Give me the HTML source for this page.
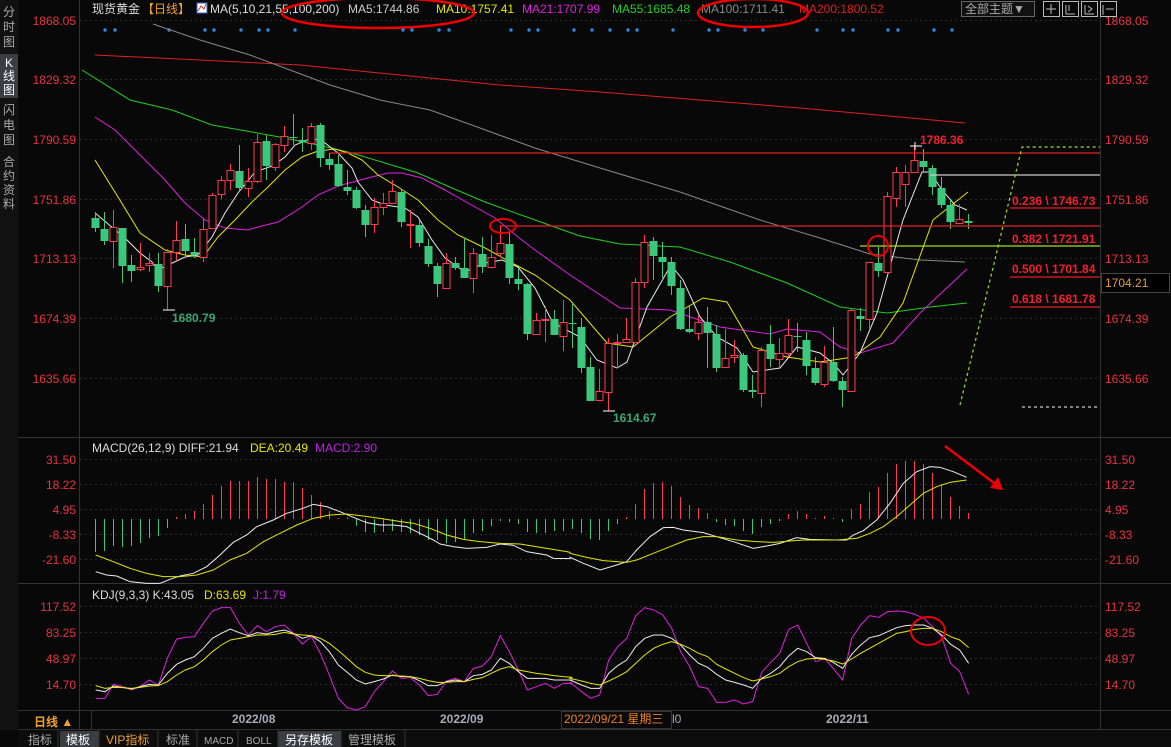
<!DOCTYPE html>
<html><head><meta charset="utf-8">
<style>
html,body{margin:0;padding:0;background:#080808;width:1171px;height:747px;overflow:hidden}
svg{display:block}
text{font-family:"Liberation Sans","Noto Sans CJK SC",sans-serif}
</style></head><body>
<svg id="s" width="1171" height="747" viewBox="0 0 1171 747" xmlns="http://www.w3.org/2000/svg">
<rect width="1171" height="747" fill="#080808"/>
<rect x="0" y="0" width="18" height="730" fill="#111"/>
<rect x="0" y="54" width="18" height="44" fill="#3a3d44"/>
<g font-size="12" fill="#aaa" text-anchor="middle">
<text x="9" y="16">分</text><text x="9" y="31">时</text><text x="9" y="46">图</text>
<text x="9" y="67" fill="#fff">K</text><text x="9" y="80" fill="#fff">线</text><text x="9" y="94" fill="#fff">图</text>
<text x="9" y="114">闪</text><text x="9" y="129">电</text><text x="9" y="144">图</text>
<text x="9" y="166">合</text><text x="9" y="180">约</text><text x="9" y="194">资</text><text x="9" y="208">料</text>
</g>
<g stroke="#333" stroke-width="1">
<line x1="79.5" y1="0" x2="79.5" y2="730"/>
<line x1="1100.5" y1="0" x2="1100.5" y2="730"/>
<line x1="18" y1="437.5" x2="1171" y2="437.5"/>
<line x1="18" y1="583.5" x2="1171" y2="583.5"/>
<line x1="18" y1="710.5" x2="1171" y2="710.5"/>
<line x1="18" y1="729.5" x2="1171" y2="729.5"/>
<line x1="91.5" y1="710" x2="91.5" y2="730"/>
</g>
<g stroke="#2a2a2a" stroke-dasharray="2,3">
<line x1="80" y1="20.5" x2="1100" y2="20.5"/><line x1="80" y1="79.5" x2="1100" y2="79.5"/>
<line x1="80" y1="139.5" x2="1100" y2="139.5"/><line x1="80" y1="199.5" x2="1100" y2="199.5"/>
<line x1="80" y1="258.5" x2="1100" y2="258.5"/><line x1="80" y1="318.5" x2="1100" y2="318.5"/>
<line x1="80" y1="378.5" x2="1100" y2="378.5"/>
<line x1="80" y1="459.5" x2="1100" y2="459.5"/><line x1="80" y1="484.5" x2="1100" y2="484.5"/>
<line x1="80" y1="509.5" x2="1100" y2="509.5"/><line x1="80" y1="534.5" x2="1100" y2="534.5"/>
<line x1="80" y1="559.5" x2="1100" y2="559.5"/>
<line x1="80" y1="606.5" x2="1100" y2="606.5"/><line x1="80" y1="632.5" x2="1100" y2="632.5"/>
<line x1="80" y1="658.5" x2="1100" y2="658.5"/><line x1="80" y1="684.5" x2="1100" y2="684.5"/>
</g>
<g font-size="12" fill="#e8333f">
<g text-anchor="end">
<text x="76" y="25">1868.05</text><text x="76" y="84">1829.32</text><text x="76" y="144">1790.59</text>
<text x="76" y="204">1751.86</text><text x="76" y="263">1713.13</text><text x="76" y="323">1674.39</text>
<text x="76" y="383">1635.66</text>
<text x="76" y="464">31.50</text><text x="76" y="489">18.22</text><text x="76" y="514">4.95</text>
<text x="76" y="539">-8.33</text><text x="76" y="564">-21.60</text>
<text x="76" y="611">117.52</text><text x="76" y="637">83.25</text><text x="76" y="663">48.97</text><text x="76" y="689">14.70</text>
</g>
<text x="1105" y="25">1868.05</text><text x="1105" y="84">1829.32</text><text x="1105" y="144">1790.59</text>
<text x="1105" y="204">1751.86</text><text x="1105" y="263">1713.13</text><text x="1105" y="323">1674.39</text>
<text x="1105" y="383">1635.66</text>
<text x="1105" y="464">31.50</text><text x="1105" y="489">18.22</text><text x="1105" y="514">4.95</text>
<text x="1105" y="539">-8.33</text><text x="1105" y="564">-21.60</text>
<text x="1105" y="611">117.52</text><text x="1105" y="637">83.25</text><text x="1105" y="663">48.97</text><text x="1105" y="689">14.70</text>
</g>
<rect x="1101.5" y="273.5" width="68" height="19" fill="#000" stroke="#444"/>
<text x="1105" y="287" font-size="12" fill="#e0a040">1704.21</text>
<g font-size="12">
<text x="92" y="13" fill="#ddd">现货黄金</text>
<text x="142" y="13" fill="#f0a030">【日线】</text>
<rect x="197" y="3" width="10" height="10" fill="#fff" stroke="#36c"/>
<polyline points="198,11 201,6 204,9 206,4" fill="none" stroke="#c33"/>
<text x="210" y="13" fill="#ddd">MA(5,10,21,55,100,200)</text>
<text x="348" y="13" fill="#ccc">MA5:1744.86</text>
<text x="436" y="13" fill="#e6e600">MA10:1757.41</text>
<text x="522" y="13" fill="#e020e0">MA21:1707.99</text>
<text x="612" y="13" fill="#20d020">MA55:1685.48</text>
<text x="701" y="13" fill="#888">MA100:1711.41</text>
<text x="799" y="13" fill="#e02020">MA200:1800.52</text>
</g>
<rect x="961.5" y="1.5" width="73" height="15" fill="#111" stroke="#666"/>
<text x="965" y="13" font-size="12" fill="#aaa">全部主题▼</text>
<g fill="none" stroke="#bbb">
<rect x="1043.5" y="1.5" width="16" height="15"/><rect x="1062.5" y="1.5" width="16" height="15"/>
<rect x="1081.5" y="1.5" width="16" height="15"/><rect x="1100.5" y="1.5" width="16" height="15"/>
<path d="M1051 4v10M1046 9h10M1066 5v9h9M1069 5v6M1085 5v9h9M1088 6l4 3-4 3M1103 5v10M1106 9h8"/>
</g>
<ellipse cx="378" cy="13" rx="96" ry="15" fill="none" stroke="#e00" stroke-width="2.5"/>
<ellipse cx="753" cy="13" rx="55" ry="14" fill="none" stroke="#e00" stroke-width="2.5"/>
<g id="dots" fill="#2a8ae0"></g>
<g id="ma" fill="none" stroke-width="1"></g>
<g id="candles"></g>
<g id="macd"></g>
<g id="kdj" fill="none"></g>
<g stroke-width="1.2">
<line x1="330" y1="153" x2="1100" y2="153" stroke="#e02020"/>
<line x1="930" y1="175" x2="1100" y2="175" stroke="#ccc"/>
<line x1="500" y1="226" x2="1100" y2="226" stroke="#e02020"/>
<line x1="860" y1="246" x2="1100" y2="246" stroke="#a0e020"/>
<line x1="1010" y1="208" x2="1100" y2="208" stroke="#e02020"/>
<line x1="1010" y1="277" x2="1100" y2="277" stroke="#e02020"/>
<line x1="1010" y1="307" x2="1100" y2="307" stroke="#e02020"/>
<polyline points="960,405 1022,147 1100,147" fill="none" stroke="#a0e020" stroke-dasharray="3,3"/>
<line x1="1022" y1="407" x2="1100" y2="407" stroke="#ccc" stroke-dasharray="3,3"/>
</g>
<g font-size="12" font-weight="bold" fill="#f02030">
<text x="1012" y="205">0.236 \ 1746.73</text>
<text x="1012" y="243">0.382 \ 1721.91</text>
<text x="1012" y="273">0.500 \ 1701.84</text>
<text x="1012" y="303">0.618 \ 1681.78</text>
<text x="920" y="144">1786.36</text>
</g>
<g font-size="12" font-weight="bold" fill="#3aa676">
<text x="172" y="322">1680.79</text>
<text x="613" y="422">1614.67</text>
</g>
<g stroke="#fff"><line x1="163" y1="310" x2="175" y2="310"/><line x1="603" y1="411" x2="615" y2="411"/><line x1="910" y1="146" x2="922" y2="146"/><line x1="915" y1="142" x2="915" y2="150"/></g>
<ellipse cx="503" cy="226" rx="13" ry="7" fill="none" stroke="#e00" stroke-width="2"/>
<circle cx="878" cy="246" r="10" fill="none" stroke="#e00" stroke-width="2"/>
<ellipse cx="928" cy="631" rx="17" ry="14" fill="none" stroke="#e00" stroke-width="2"/>
<line x1="945" y1="446" x2="994" y2="483" stroke="#e00" stroke-width="2.5"/>
<polygon points="1003,490 990,488 998,477" fill="#e00"/>
<g font-size="12">
<text x="92" y="452" fill="#ddd">MACD(26,12,9) DIFF:21.94</text>
<text x="250" y="452" fill="#e6e600">DEA:20.49</text>
<text x="315" y="452" fill="#c020e0">MACD:2.90</text>
<text x="92" y="599" fill="#ddd">KDJ(9,3,3) K:43.05</text>
<text x="204" y="599" fill="#e6e600">D:63.69</text>
<text x="253" y="599" fill="#c020e0">J:1.79</text>
</g>
<rect x="561.5" y="711.5" width="110" height="17" fill="#080808" stroke="#333"/>
<g font-size="12">
<text x="34" y="726" fill="#f0a030" font-weight="bold">日线 ▲</text>
<text x="232" y="723" fill="#aab" font-weight="bold">2022/08</text>
<text x="440" y="723" fill="#aab" font-weight="bold">2022/09</text>
<text x="564" y="723" fill="#f08020">2022/09/21 星期三</text>
<text x="672" y="723" fill="#aab">l0</text>
<text x="826" y="723" fill="#aab" font-weight="bold">2022/11</text>
</g>
<rect x="18" y="730" width="1153" height="17" fill="#0c0c0c"/>
<rect x="60" y="731" width="39" height="16" fill="#3a3d44"/>
<rect x="278" y="731" width="63" height="16" fill="#3a3d44"/>
<g stroke="#333"><line x1="58" y1="730" x2="58" y2="747"/><line x1="99" y1="730" x2="99" y2="747"/><line x1="158" y1="730" x2="158" y2="747"/><line x1="197" y1="730" x2="197" y2="747"/><line x1="238" y1="730" x2="238" y2="747"/><line x1="278" y1="730" x2="278" y2="747"/><line x1="341" y1="730" x2="341" y2="747"/><line x1="405" y1="730" x2="405" y2="747"/></g>
<g font-size="12" fill="#aaa">
<text x="28" y="744">指标</text>
<text x="66" y="744" fill="#fff">模板</text>
<text x="106" y="744" fill="#f0a030">VIP指标</text>
<text x="166" y="744">标准</text>
<text x="204" y="744" font-size="10" font-family="Liberation Mono">MACD</text>
<text x="246" y="744" font-size="10" font-family="Liberation Mono">BOLL</text>
<text x="285" y="744" fill="#fff">另存模板</text>
<text x="348" y="744">管理模板</text>
</g>
</svg>
<script>
var NS="http://www.w3.org/2000/svg";
function el(p,t,a){var e=document.createElementNS(NS,t);for(var k in a)e.setAttribute(k,a[k]);document.getElementById(p).appendChild(e);return e;}
[105,115,169,205,214,241,259,268,295,403,412,439,449,511,529,538,574,592,610,628,637,673,709,718,745,763,817,843,853,888,898,934,952].forEach(function(x){el("dots","circle",{cx:x,cy:30,r:1.7});});
function pl(p,pts,col,w){el(p,"polyline",{points:pts.map(function(q){return q[0]+","+q[1]}).join(" "),stroke:col,"stroke-width":w||1,fill:"none"});}
function z(pts,ox,oy){return pts.map(function(q){return [ox+q[0]/3,oy+q[1]/3];});}
pl("ma",[[95,55],[200,60],[300,65],[400,75],[500,85],[600,92],[700,100],[800,108],[900,117],[965,123]],"#e02020");
pl("ma",[[153,24],[200,40],[250,55],[290,70],[330,85],[380,100],[430,110],[480,128],[535,148],[600,168],[680,192],[760,220],[820,238],[870,254],[920,260],[965,262]],"#888");
pl("ma",[[82,70],[130,100],[172,110],[212,125],[252,132],[285,138],[318,145],[352,153],[385,163],[418,173],[452,188],[485,202],[535,220],[580,236],[620,244],[680,247],[730,262],[787,283],[840,307],[887,313],[930,307],[967,303]],"#20d020");
pl("ma",[[95,117],[115,130],[145,160],[165,180],[185,203],[205,220],[225,228],[248,230],[258,227],[278,222],[302,207],[318,195],[338,186],[368,178],[388,173],[402,173],[422,178],[445,190],[468,203],[495,218],[518,237],[535,250],[570,275],[620,308],[670,310],[720,327],[770,334],[787,329],[820,332],[840,347],[860,353],[893,343],[920,313],[967,269]],"#e020e0");
pl("ma",[[95,160],[118,197],[140,233],[165,250],[185,255],[203,257],[218,237],[235,220],[252,202],[268,187],[285,170],[302,157],[318,151],[335,149],[348,153],[362,160],[378,175],[398,187],[418,200],[438,220],[458,235],[485,248],[512,263],[535,275],[570,300],[607,343],[633,347],[670,317],[703,298],[727,302],[753,347],[787,357],[820,362],[853,357],[880,337],[903,303],[933,220],[968,192]],"#e6e600");
pl("ma",[[95,213],[125,238],[140,253],[152,262],[158,270],[168,265],[185,257],[198,255],[212,237],[225,213],[238,193],[255,172],[272,166],[285,157],[295,145],[312,138],[325,143],[338,153],[352,168],[358,182],[372,200],[385,205],[405,208],[418,217],[432,240],[445,258],[465,272],[485,263],[502,260],[518,267],[535,288],[553,323],[580,337],[597,360],[617,368],[627,362],[647,307],[671,265],[683,280],[700,317],[717,337],[737,348],[753,372],[780,368],[797,347],[820,353],[833,363],[843,375],[860,353],[877,313],[903,220],[922,172],[930,172],[942,190],[955,205],[967,210]],"#e8e8e8");
var C=[[218,228,212,232,0],[229,241,212,245,0],[227,241,210,268,1],[228,266,228,283,0],[265,271,255,282,0],[267,269,243,271,1],[263,265,253,272,1],[264,286,253,292,0],[252,286,249,310,1],[240,252,221,260,1],[239,251,224,257,0],[252,255,238,258,0],[229,257,218,262,1],[195,228,193,229,1],[180,194,176,199,1],[170,180,164,190,1],[171,188,145,190,0],[181,188,168,197,1],[142,181,134,183,1],[141,166,135,180,0],[144,167,143,171,1],[136,145,126,152,1],[137,138,114,145,0],[140,142,128,152,0],[126,143,123,150,1],[125,158,123,167,0],[159,165,153,170,0],[164,186,155,187,0],[187,191,170,195,0],[190,208,187,209,0],[210,225,205,237,0],[207,224,198,233,1],[203,207,193,215,1],[191,203,180,203,1],[192,222,190,227,0],[224,225,210,248,1],[225,243,220,247,0],[246,264,239,267,0],[266,284,263,297,0],[263,288,253,288,1],[263,268,257,270,0],[268,278,238,278,0],[253,278,248,293,1],[254,267,237,273,0],[257,267,235,268,1],[243,253,225,257,1],[244,278,233,284,0],[279,284,269,290,0],[284,334,283,340,0],[320,334,313,334,1],[319,320,306,342,1],[319,335,310,335,0],[322,336,300,351,1],[323,324,303,348,0],[327,368,318,373,0],[367,401,357,401,0],[391,400,369,400,1],[343,392,338,411,1],[342,343,334,368,1],[339,342,318,343,1],[282,342,278,343,1],[242,282,235,288,1],[241,256,237,280,0],[257,262,242,278,0],[262,286,257,295,0],[288,329,280,330,0],[329,332,305,333,0],[322,333,315,340,1],[322,333,307,368,0],[334,368,325,372,0],[358,367,329,367,1],[355,357,340,363,1],[355,390,353,392,0],[390,392,375,398,0],[350,393,347,407,1],[344,359,325,367,0],[353,359,338,368,1],[335,353,319,357,1],[336,337,323,352,0],[340,366,332,375,0],[368,383,357,385,0],[362,384,346,387,1],[362,381,327,382,0],[381,390,377,407,0],[310,391,308,391,1],[316,319,308,331,0],[262,319,262,330,1],[263,271,247,277,0],[196,272,192,272,1],[172,198,167,207,1],[172,184,165,207,1],[160,172,146,172,1],[161,167,149,173,0],[168,187,165,195,0],[188,205,177,208,0],[205,222,200,229,0],[219,223,204,223,1],[221,223,214,229,0]];
var RED="#ff3b4f",GRN="#3cc87c";
C.forEach(function(c,i){var x=95+9*i;var col=c[4]?RED:GRN;
 el("candles","line",{x1:x+0.5,y1:c[2],x2:x+0.5,y2:c[0],stroke:col});
 el("candles","line",{x1:x+0.5,y1:c[1],x2:x+0.5,y2:c[3],stroke:col});
 var h=Math.max(1,c[1]-c[0]);
 if(c[4])el("candles","rect",{x:x-3,y:c[0]+0.5,width:7,height:h,fill:"#080808",stroke:col});
 else el("candles","rect",{x:x-3.5,y:c[0],width:8,height:h,fill:col});
});
var M=[552,551,546,547,546,543,538,536,528,517,514,511,504,495,486,481,481,481,477,479,479,482,482,488,495,502,511,518,517,526,532,533,532,531,532,533,535,540,540,543,542,539,533,531,526,521,522,524,532,533,533,531,531,529,533,539,540,531,524,517,504,489,483,482,486,497,505,508,513,522,525,526,531,534,527,524,521,514,511,514,518,516,518,522,509,504,492,487,473,464,461,461,464,473,484,497,506,513];
M.forEach(function(v,i){var x=95.5+9*i;el("macd","line",{x1:x,y1:519,x2:x,y2:v,stroke:v<519?RED:GRN,"stroke-width":1});});
pl("macd",z([[47,395],[80,405],[110,408],[150,425],[200,430],[240,430],[270,418],[300,408],[340,400],[380,380],[420,345],[460,307],[500,285],[530,260],[580,240],[620,220],[660,208],[700,193],[740,200],[780,215],[820,232],[860,248],[900,255],[940,255],[980,260],[1020,280],[1060,300],[1080,312],[1120,320],[1160,325],[1220,322],[1260,312],[1300,316],[1340,335],[1400,345],[1420,355],[1470,356]],80,440).concat(z([[0,352],[40,370],[90,390],[140,375],[170,365],[200,330],[240,290],[280,263],[310,262],[340,270],[400,278],[440,290],[490,305],[550,325],[590,318],[630,310],[680,293],[720,298],[800,300],[830,300],[850,285],[880,272],[920,240],[960,190],[1000,130],[1040,95],[1080,80],[1110,82],[1150,95],[1190,112]],570,440)),"#eee");
pl("macd",z([[47,345],[100,365],[150,385],[200,400],[250,410],[300,410],[350,405],[400,390],[450,360],[500,340],[550,305],[600,280],[650,255],[700,235],[750,225],[800,222],[850,228],[900,235],[950,243],[1000,250],[1050,265],[1100,285],[1150,298],[1200,305],[1260,310],[1320,312],[1400,325],[1460,335],[1470,337]],80,440).concat(z([[0,340],[50,352],[100,362],[170,367],[200,360],[250,340],[300,320],[350,300],[400,290],[440,290],[500,300],[560,305],[610,307],[660,303],[700,300],[800,300],[860,295],[900,280],[940,260],[980,230],[1020,195],[1060,160],[1100,140],[1140,127],[1190,120]],570,440)),"#e6e600");
pl("kdj",z([[47,340],[75,340],[100,298],[130,305],[155,315],[180,305],[208,285],[235,300],[262,220],[290,162],[316,157],[343,155],[370,115],[397,78],[424,68],[451,68],[478,115],[505,150],[532,122],[559,140],[586,125],[613,120],[640,145],[667,177],[694,155],[721,205],[748,270],[775,340],[802,368],[829,375],[856,365],[883,320],[910,290],[937,258],[964,280],[991,278],[1018,300],[1045,332],[1072,328],[1099,288],[1126,280],[1153,290],[1180,250],[1207,243],[1234,215],[1261,152],[1288,200],[1315,255],[1342,315],[1369,305],[1396,295],[1423,310],[1450,295],[1477,295]],80,585).concat(z([[0,292],[35,320],[62,340],[89,330],[116,225],[143,185],[170,160],[197,92],[224,68],[251,75],[278,90],[305,130],[332,200],[359,245],[386,305],[413,310],[440,352],[467,352],[494,345],[521,357],[548,350],[575,262],[602,232],[629,205],[656,133],[683,120],[710,175],[737,230],[764,220],[791,252],[818,285],[845,160],[872,120],[899,92],[926,97],[953,80],[980,78],[1007,80],[1034,88],[1061,100],[1088,125],[1115,155],[1142,235],[1169,260],[1196,328]],570,585)),"#e020e0");
pl("kdj",z([[47,315],[75,320],[100,303],[130,308],[155,312],[180,305],[208,298],[235,300],[262,265],[290,238],[316,225],[343,215],[370,190],[397,160],[424,145],[451,132],[478,143],[505,152],[532,143],[559,147],[586,140],[613,135],[640,145],[667,160],[694,152],[721,170],[748,200],[775,240],[802,262],[829,285],[856,297],[883,290],[910,282],[937,270],[964,275],[991,275],[1018,287],[1045,302],[1072,302],[1099,290],[1126,285],[1153,290],[1180,272],[1207,268],[1234,255],[1261,220],[1288,235],[1315,260],[1342,280],[1369,280],[1396,280],[1423,285],[1450,285],[1477,285]],80,585).concat(z([[0,285],[35,300],[62,310],[89,310],[116,265],[143,242],[170,225],[197,185],[224,160],[251,150],[278,150],[305,160],[332,180],[359,210],[386,235],[413,247],[440,268],[467,285],[494,292],[521,300],[548,310],[575,280],[602,265],[629,245],[656,213],[683,190],[710,200],[737,218],[764,220],[791,233],[818,250],[845,208],[872,180],[899,158],[926,152],[953,140],[980,128],[1007,122],[1034,120],[1061,120],[1088,130],[1115,150],[1142,178],[1169,195],[1196,235]],570,585)),"#eee");
pl("kdj",z([[47,302],[75,310],[100,307],[130,308],[155,310],[180,307],[208,303],[235,302],[262,290],[290,270],[316,255],[343,245],[370,225],[397,200],[424,180],[451,165],[478,160],[505,155],[532,150],[559,150],[586,148],[613,142],[640,147],[667,150],[694,152],[721,160],[748,175],[775,197],[802,220],[829,245],[856,262],[883,270],[910,272],[937,272],[964,273],[991,275],[1018,280],[1045,287],[1072,292],[1099,292],[1126,290],[1153,290],[1180,283],[1207,278],[1234,265],[1261,252],[1288,245],[1315,255],[1342,260],[1369,265],[1396,268],[1423,272],[1450,275],[1477,277]],80,585).concat(z([[0,280],[35,288],[62,295],[89,300],[116,288],[143,275],[170,260],[197,235],[224,210],[251,190],[278,178],[305,170],[332,178],[359,190],[386,205],[413,215],[440,238],[467,252],[494,265],[521,278],[548,288],[575,282],[602,275],[629,265],[656,245],[683,230],[710,222],[737,220],[764,223],[791,228],[818,237],[845,222],[872,205],[899,190],[926,175],[953,160],[980,145],[1007,140],[1034,133],[1061,130],[1088,130],[1115,140],[1142,155],[1169,165],[1196,188]],570,585)),"#e6e600");
</script>
</body></html>
